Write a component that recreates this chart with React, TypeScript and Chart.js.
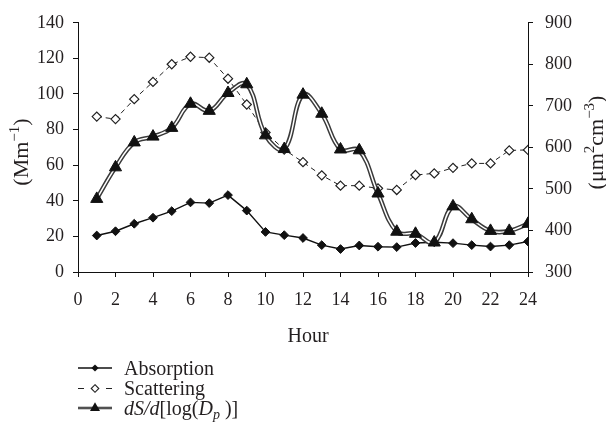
import React, { useEffect, useRef } from 'react';
import { Chart, registerables } from 'chart.js';

Chart.register(...registerables);

// ---- data ----
const hours = [1, 2, 3, 4, 5, 6, 7, 8, 9, 10, 11, 12, 13, 14, 15, 16, 17, 18, 19, 20, 21, 22, 23, 24];
const absorption = [20.5, 22.9, 27.1, 30.5, 34.2, 39.1, 38.7, 43.2, 34.5, 22.5, 20.7, 19.1, 15.1, 12.9, 14.9, 14.2, 14.0, 16.3, 16.7, 16.2, 15.1, 14.3, 15.1, 17.1];
const scattering = [87.3, 85.9, 97.1, 106.8, 116.7, 120.9, 120.4, 108.6, 94.1, 78.4, 68.8, 61.7, 54.3, 48.5, 48.5, 47.0, 46.1, 54.5, 55.4, 58.5, 61.0, 61.0, 68.3, 68.6];
const dsDlogDp = [476, 552, 612, 626, 647, 705, 688, 731, 752, 629, 596, 727, 681, 595, 593, 489, 397, 392, 371, 458, 427, 399, 399, 416];

const xTickValues = [0, 2, 4, 6, 8, 10, 12, 14, 16, 18, 20, 22, 24];
const leftTicks = [0, 20, 40, 60, 80, 100, 120, 140];
const rightTicks = [300, 400, 500, 600, 700, 800, 900];
const seriesNames = ['Absorption', 'Scattering', 'dS/d[log(Dp)]'];
const xTitle = 'Hour';

const FONT = '"Liberation Serif", "Times New Roman", serif';
const FS_TICK = 18;
const FS_TEXT = 20;
const FS_TITLE = 22;
const TEXT = '#231f20';

type Seg = { t: string; italic?: boolean; sup?: boolean; sub?: boolean };

function segFont(s: Seg, size: number) {
  const sz = s.sup || s.sub ? Math.round(size * 0.7) : size;
  return `${s.italic ? 'italic ' : ''}${sz}px ${FONT}`;
}

function drawRich(ctx: CanvasRenderingContext2D, segs: Seg[], x: number, baseline: number, size: number, align: 'left' | 'center') {
  let total = 0;
  const widths = segs.map((s) => {
    ctx.font = segFont(s, size);
    const w = ctx.measureText(s.t).width;
    total += w;
    return w;
  });
  let cx = align === 'center' ? x - total / 2 : x;
  ctx.textAlign = 'left';
  ctx.textBaseline = 'alphabetic';
  segs.forEach((s, i) => {
    ctx.font = segFont(s, size);
    const dy = s.sup ? -size * 0.4 : s.sub ? size * 0.22 : 0;
    ctx.fillText(s.t, cx, baseline + dy);
    cx += widths[i];
  });
}

const leftTitle: Seg[] = [{ t: '(Mm' }, { t: '−1', sup: true }, { t: ')' }];
const rightTitle: Seg[] = [{ t: '(μm' }, { t: '2', sup: true }, { t: 'cm' }, { t: '−3', sup: true }, { t: ')' }];
const dsLabel: Seg[] = [{ t: 'dS/d', italic: true }, { t: '[log(' }, { t: 'D', italic: true }, { t: 'p', italic: true, sub: true }, { t: ' )]' }];

function diamond(ctx: CanvasRenderingContext2D, x: number, y: number, r: number) {
  ctx.beginPath();
  ctx.moveTo(x, y - r);
  ctx.lineTo(x + r, y);
  ctx.lineTo(x, y + r);
  ctx.lineTo(x - r, y);
  ctx.closePath();
}

const overlayPlugin = {
  id: 'overlay',
  afterDraw(chart: any) {
    const ctx: CanvasRenderingContext2D = chart.ctx;
    ctx.save();
    ctx.fillStyle = TEXT;
    // x title
    drawRich(ctx, [{ t: xTitle }], 308, 335 + FS_TEXT * 0.33, FS_TEXT, 'center');
    // left title
    ctx.save();
    ctx.translate(20.5, 152);
    ctx.rotate(-Math.PI / 2);
    drawRich(ctx, leftTitle, 0, FS_TITLE * 0.33, FS_TITLE, 'center');
    ctx.restore();
    // right title
    ctx.save();
    ctx.translate(596, 142.5);
    ctx.rotate(-Math.PI / 2);
    drawRich(ctx, rightTitle, 0, FS_TITLE * 0.33, FS_TITLE, 'center');
    ctx.restore();

    // legend
    const x0 = 78, x1 = 112, mx = 95, tx = 124;
    const rows = [368, 388.5, 408];
    // Absorption
    ctx.strokeStyle = '#111';
    ctx.lineWidth = 1.3;
    ctx.beginPath();
    ctx.moveTo(x0, rows[0]);
    ctx.lineTo(x1, rows[0]);
    ctx.stroke();
    ctx.fillStyle = '#111';
    diamond(ctx, mx, rows[0], 3.6);
    ctx.fill();
    ctx.fillStyle = TEXT;
    drawRich(ctx, [{ t: seriesNames[0] }], tx, rows[0] + FS_TEXT * 0.33, FS_TEXT, 'left');
    // Scattering
    ctx.strokeStyle = '#222';
    ctx.lineWidth = 1;
    ctx.beginPath();
    ctx.moveTo(x0, rows[1]);
    ctx.lineTo(x0 + 6, rows[1]);
    ctx.moveTo(x1 - 6, rows[1]);
    ctx.lineTo(x1, rows[1]);
    ctx.stroke();
    ctx.fillStyle = '#fff';
    ctx.lineWidth = 1.1;
    diamond(ctx, mx, rows[1], 3.8);
    ctx.fill();
    ctx.stroke();
    ctx.fillStyle = TEXT;
    drawRich(ctx, [{ t: seriesNames[1] }], tx, rows[1] + FS_TEXT * 0.33, FS_TEXT, 'left');
    // dS
    ctx.strokeStyle = '#333';
    ctx.lineWidth = 2.6;
    ctx.beginPath();
    ctx.moveTo(x0, rows[2]);
    ctx.lineTo(x1, rows[2]);
    ctx.stroke();
    ctx.strokeStyle = '#8a8a8a';
    ctx.lineWidth = 0.7;
    ctx.beginPath();
    ctx.moveTo(x0, rows[2]);
    ctx.lineTo(x1, rows[2]);
    ctx.stroke();
    ctx.fillStyle = '#111';
    const r = 5.8;
    ctx.beginPath();
    ctx.moveTo(mx, rows[2] - r);
    ctx.lineTo(mx + r * 0.866, rows[2] + r / 2);
    ctx.lineTo(mx - r * 0.866, rows[2] + r / 2);
    ctx.closePath();
    ctx.fill();
    ctx.fillStyle = TEXT;
    drawRich(ctx, dsLabel, tx, rows[2] + FS_TEXT * 0.33, FS_TEXT, 'left');
    ctx.restore();
  },
};

function pts(values: number[]) {
  return hours.map((h, i) => ({ x: h, y: values[i] }));
}

export default function App() {
  const ref = useRef<HTMLCanvasElement | null>(null);
  useEffect(() => {
    if (!ref.current) return;
    const tickFont = { family: FONT, size: FS_TICK };
    const chart = new Chart(ref.current, {
      type: 'line',
      data: {
        datasets: [
          {
            label: seriesNames[0],
            data: pts(absorption),
            yAxisID: 'y',
            borderColor: '#111',
            borderWidth: 1.4,
            pointStyle: 'rectRot',
            pointRadius: 4.4,
            pointBackgroundColor: '#111',
            pointBorderColor: '#111',
            pointBorderWidth: 1,
            tension: 0,
            order: 3,
          },
          {
            label: seriesNames[1],
            data: pts(scattering),
            yAxisID: 'y',
            borderColor: '#222',
            borderWidth: 1,
            borderDash: [5, 4],
            pointStyle: 'rectRot',
            pointRadius: 4.6,
            pointBackgroundColor: '#fff',
            pointBorderColor: '#222',
            pointBorderWidth: 1.2,
            tension: 0,
            order: 2,
          },
          {
            label: seriesNames[2] + ' outline',
            data: pts(dsDlogDp),
            yAxisID: 'y2',
            borderColor: '#3a3a3a',
            borderWidth: 4.5,
            pointRadius: 0,
            tension: 0.4,
            order: 1,
          },
          {
            label: seriesNames[2],
            data: pts(dsDlogDp),
            yAxisID: 'y2',
            borderColor: '#fff',
            borderWidth: 1.5,
            pointStyle: 'triangle',
            pointRadius: 7,
            pointBackgroundColor: '#111',
            pointBorderColor: '#111',
            pointBorderWidth: 1,
            tension: 0.4,
            order: 0,
          },
        ],
      },
      options: {
        responsive: false,
        animation: false,
        layout: { padding: { top: 15, bottom: 81, left: 0, right: 0 } },
        plugins: { legend: { display: false }, tooltip: { enabled: false } },
        scales: {
          x: {
            type: 'linear',
            min: 0,
            max: 24,
            afterBuildTicks: (s: any) => {
              s.ticks = xTickValues.map((v) => ({ value: v }));
            },
            afterFit: (s: any) => {
              s.height = 80;
            },
            ticks: { font: tickFont, color: TEXT, padding: 12, maxRotation: 0, autoSkip: false },
            grid: { drawOnChartArea: false, drawTicks: true, tickLength: 5, color: '#111' },
            border: { display: true, color: '#111', width: 1 },
          },
          y: {
            type: 'linear',
            position: 'left',
            min: 0,
            max: 140,
            afterBuildTicks: (s: any) => {
              s.ticks = leftTicks.map((v) => ({ value: v }));
            },
            afterFit: (s: any) => {
              s.width = 78;
            },
            ticks: { font: tickFont, color: TEXT, padding: 9 },
            grid: { drawOnChartArea: false, drawTicks: true, tickLength: 5, color: '#111' },
            border: { display: true, color: '#111', width: 1 },
          },
          y2: {
            type: 'linear',
            position: 'right',
            min: 300,
            max: 900,
            afterBuildTicks: (s: any) => {
              s.ticks = rightTicks.map((v) => ({ value: v }));
            },
            afterFit: (s: any) => {
              s.width = 78;
            },
            ticks: { font: tickFont, color: TEXT, padding: 12 },
            grid: { drawOnChartArea: false, drawTicks: true, tickLength: 5, color: '#111' },
            border: { display: true, color: '#111', width: 1 },
          },
        },
      },
      plugins: [overlayPlugin],
    } as any);
    return () => chart.destroy();
  }, []);
  return (
    <div style={{ position: 'fixed', left: 0, top: 0, width: 606, height: 433, background: '#fff' }}>
      <canvas ref={ref} width={606} height={433} style={{ display: 'block' }} />
    </div>
  );
}
